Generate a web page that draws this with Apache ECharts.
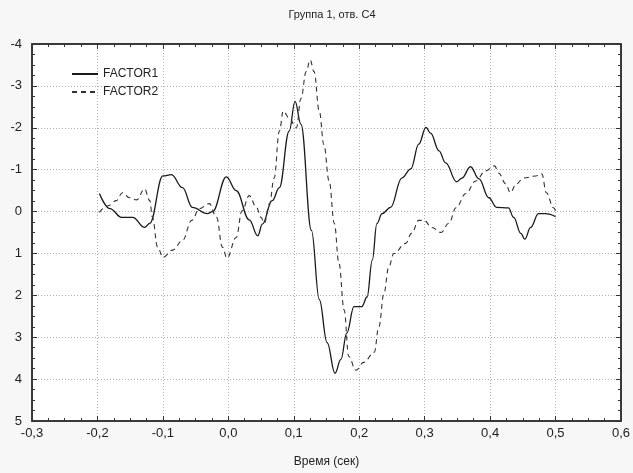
<!DOCTYPE html>
<html lang="ru">

<head>
  <meta charset="UTF-8">
  <title>Группа 1, отв. C4</title>
  <script src="https://cdn.jsdelivr.net/npm/echarts@6/dist/echarts.min.js"></script>
  <style>
    html, body { margin: 0; padding: 0; background: #f7f7f7; }
    #main { width: 633px; height: 473px; }
  </style>
</head>

<body>
  <div id="main"></div>
</body>
<script>
  // время (сек), значение
  let factor1 = [
    [-0.197, -0.43], [-0.181, -0.07], [-0.163, 0.14], [-0.146, 0.14], [-0.128, 0.38],
    [-0.12, 0.28], [-0.1, -0.85], [-0.087, -0.88], [-0.07, -0.57], [-0.055, -0.1],
    [-0.032, 0.05], [-0.024, 0.0], [-0.003, -0.83], [0.012, -0.5], [0.032, 0.2],
    [0.045, 0.58], [0.052, 0.3], [0.067, -0.26], [0.078, -0.57], [0.093, -1.92],
    [0.102, -2.63], [0.111, -2.08], [0.127, 0.45], [0.139, 2.1], [0.151, 3.13],
    [0.163, 3.86], [0.172, 3.53], [0.181, 2.9], [0.192, 2.27], [0.204, 2.27],
    [0.212, 2.04], [0.22, 1.16], [0.227, 0.29], [0.235, 0.05], [0.248, -0.1],
    [0.265, -0.8], [0.279, -1.02], [0.291, -1.61], [0.302, -2.01], [0.309, -1.87],
    [0.322, -1.45], [0.332, -1.16], [0.349, -0.71], [0.357, -0.8], [0.37, -1.07],
    [0.383, -0.78], [0.398, -0.33], [0.41, -0.1], [0.428, -0.09], [0.436, 0.14],
    [0.447, 0.52], [0.453, 0.66], [0.462, 0.38], [0.474, 0.05], [0.485, 0.05],
    [0.5, 0.12]
  ]
  let factor2 = [
    [-0.197, 0.02], [-0.184, -0.14], [-0.171, -0.26], [-0.162, -0.45], [-0.151, -0.33],
    [-0.14, -0.28], [-0.128, -0.54], [-0.12, -0.26], [-0.116, 0.14], [-0.108, 0.85],
    [-0.1, 1.09], [-0.085, 0.92], [-0.07, 0.69], [-0.056, 0.21], [-0.044, -0.07],
    [-0.029, -0.19], [-0.018, 0.14], [-0.009, 0.85], [-0.002, 1.11], [0.012, 0.62],
    [0.021, -0.02], [0.032, -0.38], [0.043, -0.1], [0.05, 0.14], [0.055, 0.28],
    [0.063, -0.19], [0.07, -0.8], [0.078, -1.92], [0.084, -2.4], [0.093, -2.23],
    [0.104, -2.0], [0.111, -2.7], [0.119, -3.34], [0.125, -3.62], [0.131, -3.34],
    [0.139, -2.4], [0.146, -1.6], [0.154, -0.73], [0.162, 0.28], [0.169, 1.23],
    [0.177, 2.35], [0.184, 3.46], [0.195, 3.79], [0.207, 3.6], [0.223, 3.36],
    [0.23, 2.75], [0.238, 1.94], [0.245, 1.33], [0.253, 1.0], [0.271, 0.76],
    [0.28, 0.52], [0.291, 0.21], [0.299, 0.21], [0.311, 0.38], [0.325, 0.5],
    [0.337, 0.28], [0.348, -0.09], [0.363, -0.43], [0.378, -0.73], [0.393, -0.97],
    [0.407, -1.09], [0.413, -0.92], [0.424, -0.66], [0.431, -0.45], [0.44, -0.66],
    [0.451, -0.8], [0.47, -0.85], [0.479, -0.9], [0.486, -0.45], [0.497, -0.09],
    [0.5, -0.02]
  ]
  let seriesNames = ['FACTOR1', 'FACTOR2']
  let xTicks = { min: -0.3, max: 0.6, step: 0.1 }
  let yTicks = { min: -4, max: 5, step: 1 }

  initChart()

  function initChart() {
    let myChart = echarts.init(document.getElementById('main'), null, { renderer: 'canvas' });
    let font = 'Liberation Sans, Arial, sans-serif'
    let frame = { show: true, onZero: false, lineStyle: { color: '#3a3a3a', width: 2 } }
    let tick = { show: true, inside: true, length: 5, lineStyle: { color: '#333' } }
    let minor = { show: true, splitNumber: 4, length: 3, lineStyle: { color: '#333' } }
    let grid = { show: true, lineStyle: { color: '#b0b0b0', type: [1, 2] } }
    let option = {
      backgroundColor: '#f7f7f7',
      animation: false,
      textStyle: { fontFamily: font },
      title: {
        text: 'Группа 1, отв. C4',
        left: 327,
        textAlign: 'center',
        top: 4,
        textStyle: { fontSize: 11, fontWeight: 'normal', color: '#222', fontFamily: font }
      },
      legend: {
        data: seriesNames,
        orient: 'vertical',
        left: 66,
        top: 63,
        itemWidth: 26,
        itemHeight: 10,
        itemGap: 6,
        itemStyle: { opacity: 0 },
        textStyle: { fontSize: 12, color: '#222', fontFamily: font }
      },
      grid: {
        left: 32, right: 11, top: 44, bottom: 52,
        show: true, backgroundColor: '#fff', borderWidth: 0
      },
      xAxis: [{
        type: 'value',
        min: xTicks.min,
        max: xTicks.max,
        interval: xTicks.step,
        name: 'Время (сек)',
        nameLocation: 'middle',
        nameGap: 35,
        nameTextStyle: { fontSize: 12, color: '#222', fontFamily: font },
        axisLine: frame,
        axisTick: tick,
        minorTick: minor,
        axisLabel: {
          fontSize: 13, color: '#222', margin: 6,
          formatter: v => v.toFixed(1).replace('.', ',')
        },
        splitLine: grid
      }, {
        type: 'value',
        position: 'top',
        min: xTicks.min,
        max: xTicks.max,
        interval: xTicks.step,
        axisLine: frame,
        axisTick: tick,
        minorTick: minor,
        axisLabel: { show: false },
        splitLine: { show: false }
      }],
      yAxis: [{
        type: 'value',
        inverse: true,
        min: yTicks.min,
        max: yTicks.max,
        interval: yTicks.step,
        axisLine: frame,
        axisTick: tick,
        minorTick: minor,
        axisLabel: { fontSize: 13, color: '#222', margin: 10 },
        splitLine: grid
      }, {
        type: 'value',
        position: 'right',
        inverse: true,
        min: yTicks.min,
        max: yTicks.max,
        interval: yTicks.step,
        axisLine: frame,
        axisTick: tick,
        minorTick: minor,
        axisLabel: { show: false },
        splitLine: { show: false }
      }],
      series: [{
        name: seriesNames[0],
        type: 'line',
        data: factor1,
        symbol: 'none',
        smooth: 0.4,
        smoothMonotone: 'x',
        lineStyle: { color: '#1a1a1a', width: 1.3, type: 'solid' },
        itemStyle: { color: '#1a1a1a' }
      }, {
        name: seriesNames[1],
        type: 'line',
        data: factor2,
        symbol: 'none',
        smooth: 0.4,
        smoothMonotone: 'x',
        lineStyle: { color: '#333', width: 1.1, type: [5, 4] },
        itemStyle: { color: '#333' }
      }]
    }
    myChart.setOption(option);
  }
</script>

</html>
